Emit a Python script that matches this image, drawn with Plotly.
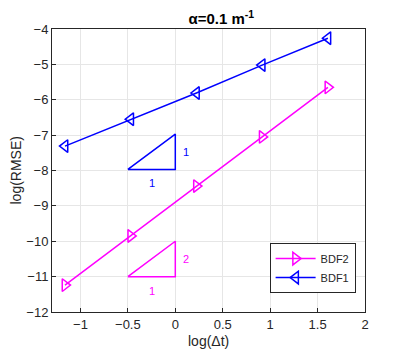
import plotly.graph_objects as go

# log(dt) values (natural log of dt = 0.3125 ... 5)
log_dt = [-1.163, -0.470, 0.223, 0.916, 1.609]
bdf1_rmse = [-7.31, -6.55, -5.81, -5.02, -4.26]
bdf2_rmse = [-11.24, -9.85, -8.44, -7.05, -5.65]

# slope triangles
tri1_x = [-0.5, 0, 0, -0.5]
tri1_y = [-7.97, -7.97, -6.97, -7.97]
tri2_x = [-0.5, 0, 0, -0.5]
tri2_y = [-11.0, -11.0, -10.0, -11.0]

x_ticks = [-1, -0.5, 0, 0.5, 1, 1.5, 2]
y_ticks = [-12, -11, -10, -9, -8, -7, -6, -5, -4]

blue = '#0000ff'
magenta = '#ff00ff'

fig = go.Figure()
fig.add_trace(go.Scatter(
    x=log_dt, y=bdf2_rmse, mode='lines+markers', name='BDF2',
    line=dict(color=magenta, width=1.5),
    marker=dict(symbol='triangle-right-open', size=11, color=magenta, line=dict(width=1.5))
))
fig.add_trace(go.Scatter(
    x=log_dt, y=bdf1_rmse, mode='lines+markers', name='BDF1',
    line=dict(color=blue, width=1.5),
    marker=dict(symbol='triangle-left-open', size=11, color=blue, line=dict(width=1.5))
))
fig.add_trace(go.Scatter(x=tri1_x, y=tri1_y, mode='lines', showlegend=False,
                         line=dict(color=blue, width=1.5), hoverinfo='skip'))
fig.add_trace(go.Scatter(x=tri2_x, y=tri2_y, mode='lines', showlegend=False,
                         line=dict(color=magenta, width=1.5), hoverinfo='skip'))

# slope labels
fig.add_annotation(x=0.06, y=-7.47, text='1', showarrow=False, xanchor='left',
                   font=dict(color=blue, size=11))
fig.add_annotation(x=-0.25, y=-8.35, text='1', showarrow=False,
                   font=dict(color=blue, size=11))
fig.add_annotation(x=0.06, y=-10.5, text='2', showarrow=False, xanchor='left',
                   font=dict(color=magenta, size=11))
fig.add_annotation(x=-0.25, y=-11.4, text='1', showarrow=False,
                   font=dict(color=magenta, size=11))

# axis titles as annotations for exact placement
fig.add_annotation(xref='paper', yref='paper', x=0.5, y=0, yanchor='middle',
                   yshift=-29, text='log(Δt)', showarrow=False,
                   font=dict(size=14, color='#262626'))
fig.add_annotation(xref='paper', yref='paper', x=0, y=0.5, xanchor='center',
                   xshift=-37, text='log(RMSE)', textangle=-90, showarrow=False,
                   font=dict(size=14, color='#262626'))

axis_common = dict(
    showgrid=True, gridcolor='#e6e6e6', gridwidth=1,
    showline=True, linecolor='#262626', linewidth=1, mirror=True,
    ticks='inside', ticklen=4, tickcolor='#262626',
    zeroline=False, tickfont=dict(size=13, color='#262626'),
    automargin=False,
)

# page body has an 8px margin, so the figure is shifted by 8px
fig.update_layout(
    width=395, height=341,
    margin=dict(l=44, r=38, t=21, b=37),
    paper_bgcolor='white', plot_bgcolor='white',
    font=dict(family='Liberation Sans, Arial, sans-serif', color='#262626'),
    title=dict(text='<b>α=0.1 m<sup>-1</sup></b>', x=0.54, xanchor='center',
               y=0.968, yanchor='middle', font=dict(size=15, color='black')),
    xaxis=dict(axis_common, range=[-1.3, 2], tickvals=x_ticks),
    yaxis=dict(axis_common, range=[-12, -4], tickvals=y_ticks),
    legend=dict(x=0.97, y=0.067, xanchor='right', yanchor='bottom',
                bgcolor='white', bordercolor='#262626', borderwidth=1,
                font=dict(size=11, color='#262626'), tracegroupgap=0,
                itemwidth=40),
    showlegend=True,
)

fig.write_html("out.html")
